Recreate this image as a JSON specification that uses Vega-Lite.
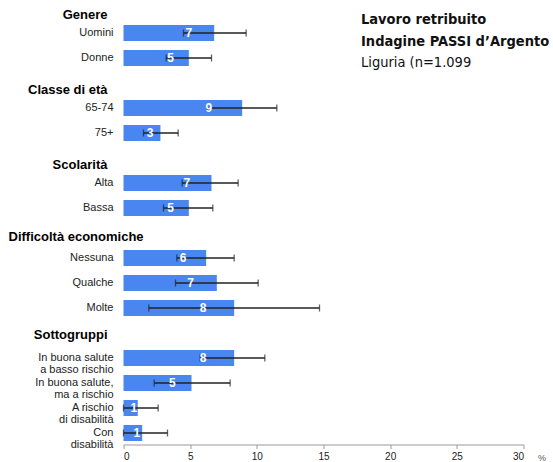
{
  "$schema": "https://vega.github.io/schema/vega-lite/v6.json",
  "width": 400,
  "height": 444.5,
  "autosize": {"type": "none"},
  "padding": {"left": 123.5, "right": 29.5, "top": 0, "bottom": 17.5},
  "background": "white",
  "config": {"view": {"stroke": null}, "font": "Liberation Sans"},
  "title": {
    "text": ["Lavoro retribuito", "Indagine PASSI d’Argento"],
    "subtitle": "Liguria (n=1.099",
    "anchor": "start",
    "frame": "group",
    "orient": "top",
    "dx": 237.5,
    "dy": 74,
    "font": "Liberation Sans Narrow, DejaVu Sans Condensed, Liberation Sans",
    "fontSize": 14.5,
    "fontWeight": "bold",
    "lineHeight": 22,
    "color": "#111",
    "subtitleFont": "Liberation Sans Narrow, DejaVu Sans Condensed, Liberation Sans",
    "subtitleFontSize": 14.5,
    "subtitleColor": "#111",
    "subtitlePadding": 6
  },
  "data": {
    "values": [
      {"row": "Genere", "value": null, "lo": null, "hi": null},
      {"row": "Uomini", "value": 6.8, "lo": 4.5, "hi": 9.2},
      {"row": "Donne", "value": 4.9, "lo": 3.2, "hi": 6.6},
      {"row": "Classe di età", "value": null, "lo": null, "hi": null},
      {"row": "65-74", "value": 8.9, "lo": 6.3, "hi": 11.5},
      {"row": "75+", "value": 2.77, "lo": 1.5, "hi": 4.1},
      {"row": "Scolarità", "value": null, "lo": null, "hi": null},
      {"row": "Alta", "value": 6.6, "lo": 4.4, "hi": 8.6},
      {"row": "Bassa", "value": 4.9, "lo": 3.0, "hi": 6.7},
      {"row": "Difficoltà economiche", "value": null, "lo": null, "hi": null},
      {"row": "Nessuna", "value": 6.2, "lo": 4.0, "hi": 8.3},
      {"row": "Qualche", "value": 7.0, "lo": 3.9, "hi": 10.1},
      {"row": "Molte", "value": 8.3, "lo": 1.9, "hi": 14.7},
      {"row": "Sottogruppi", "value": null, "lo": null, "hi": null},
      {"row": "In buona salute|a basso rischio", "value": 8.3, "lo": 5.75, "hi": 10.6},
      {"row": "In buona salute,|ma a rischio", "value": 5.1, "lo": 2.3, "hi": 8.0},
      {"row": "A rischio|di disabilità", "value": 1.07, "lo": 0.0, "hi": 2.6},
      {"row": "Con|disabilità", "value": 1.4, "lo": 0.0, "hi": 3.3}
    ]
  },
  "transform": [{"filter": "datum.value != null"}],
  "encoding": {
    "y": {
      "field": "row",
      "type": "nominal",
      "scale": {
        "domain": ["Genere", "Uomini", "Donne", "Classe di età", "65-74", "75+", "Scolarità", "Alta", "Bassa", "Difficoltà economiche", "Nessuna", "Qualche", "Molte", "Sottogruppi", "In buona salute|a basso rischio", "In buona salute,|ma a rischio", "A rischio|di disabilità", "Con|disabilità"],
        "range": [0, 441],
        "paddingInner": 0.36,
        "paddingOuter": 0
      },
      "axis": {
        "title": null,
        "domain": false,
        "ticks": false,
        "labelExpr": "split(datum.label, '|')",
        "labelFontSize": {"condition": {"test": "indexof(['Genere','Classe di età','Scolarità','Difficoltà economiche','Sottogruppi'], datum.value) >= 0", "value": 13}, "value": 11},
        "labelFontWeight": {"condition": {"test": "indexof(['Genere','Classe di età','Scolarità','Difficoltà economiche','Sottogruppi'], datum.value) >= 0", "value": "bold"}, "value": "normal"},
        "labelColor": {"condition": {"test": "indexof(['Genere','Classe di età','Scolarità','Difficoltà economiche','Sottogruppi'], datum.value) >= 0", "value": "#000"}, "value": "#222"},
        "labelAlign": {"condition": {"test": "datum.value === 'Difficoltà economiche'", "value": "left"}, "value": "right"},
        "labelPadding": {"condition": [
          {"test": "datum.value === 'Difficoltà economiche'", "value": 115.5},
          {"test": "indexof(['Genere','Classe di età','Scolarità','Sottogruppi'], datum.value) >= 0", "value": 16.5}
        ], "value": 10.5},
        "labelOffset": {"condition": [
          {"test": "indexof(['Genere','Classe di età','Scolarità'], datum.value) >= 0", "value": 7},
          {"test": "datum.value === 'Difficoltà economiche'", "value": 4},
          {"test": "datum.value === 'Sottogruppi'", "value": 2}
        ], "value": 0},
        "labelLineHeight": 12,
        "labelLimit": 200
      }
    }
  },
  "layer": [
    {
      "mark": {"type": "bar", "color": "#4a86f0"},
      "encoding": {
        "x": {
          "field": "value",
          "type": "quantitative",
          "scale": {"domain": [0, 30], "nice": false},
          "axis": {
            "title": "%",
            "values": [0, 5, 10, 15, 20, 25, 30],
            "grid": false,
            "domainColor": "#9a9a9a",
            "tickColor": "#9a9a9a",
            "tickSize": 4,
            "labelFontSize": 10,
            "labelColor": "#222",
            "labelPadding": 3,
            "titleX": 414,
            "titleY": 13,
            "titleAlign": "left",
            "titleBaseline": "middle",
            "titleFontSize": 9,
            "titleFontWeight": "normal",
            "titleColor": "#555"
          }
        }
      }
    },
    {
      "mark": {"type": "rule", "color": "#222", "strokeWidth": 1.3},
      "encoding": {
        "x": {"field": "lo", "type": "quantitative", "scale": {"domain": [0, 30], "nice": false}, "axis": null},
        "x2": {"field": "hi"}
      }
    },
    {
      "mark": {"type": "tick", "color": "#222", "thickness": 1.3, "size": 7},
      "encoding": {
        "x": {"field": "lo", "type": "quantitative", "scale": {"domain": [0, 30], "nice": false}, "axis": null}
      }
    },
    {
      "mark": {"type": "tick", "color": "#222", "thickness": 1.3, "size": 7},
      "encoding": {
        "x": {"field": "hi", "type": "quantitative", "scale": {"domain": [0, 30], "nice": false}, "axis": null}
      }
    },
    {
      "mark": {"type": "text", "color": "white", "fontWeight": "bold", "fontSize": 12, "align": "center", "baseline": "middle"},
      "encoding": {
        "x": {"field": "value", "type": "quantitative", "scale": {"domain": [0, 41.7], "nice": false}, "axis": null},
        "text": {"field": "value", "type": "quantitative", "format": ".0f"}
      }
    }
  ],
  "resolve": {"scale": {"x": "independent"}}
}
